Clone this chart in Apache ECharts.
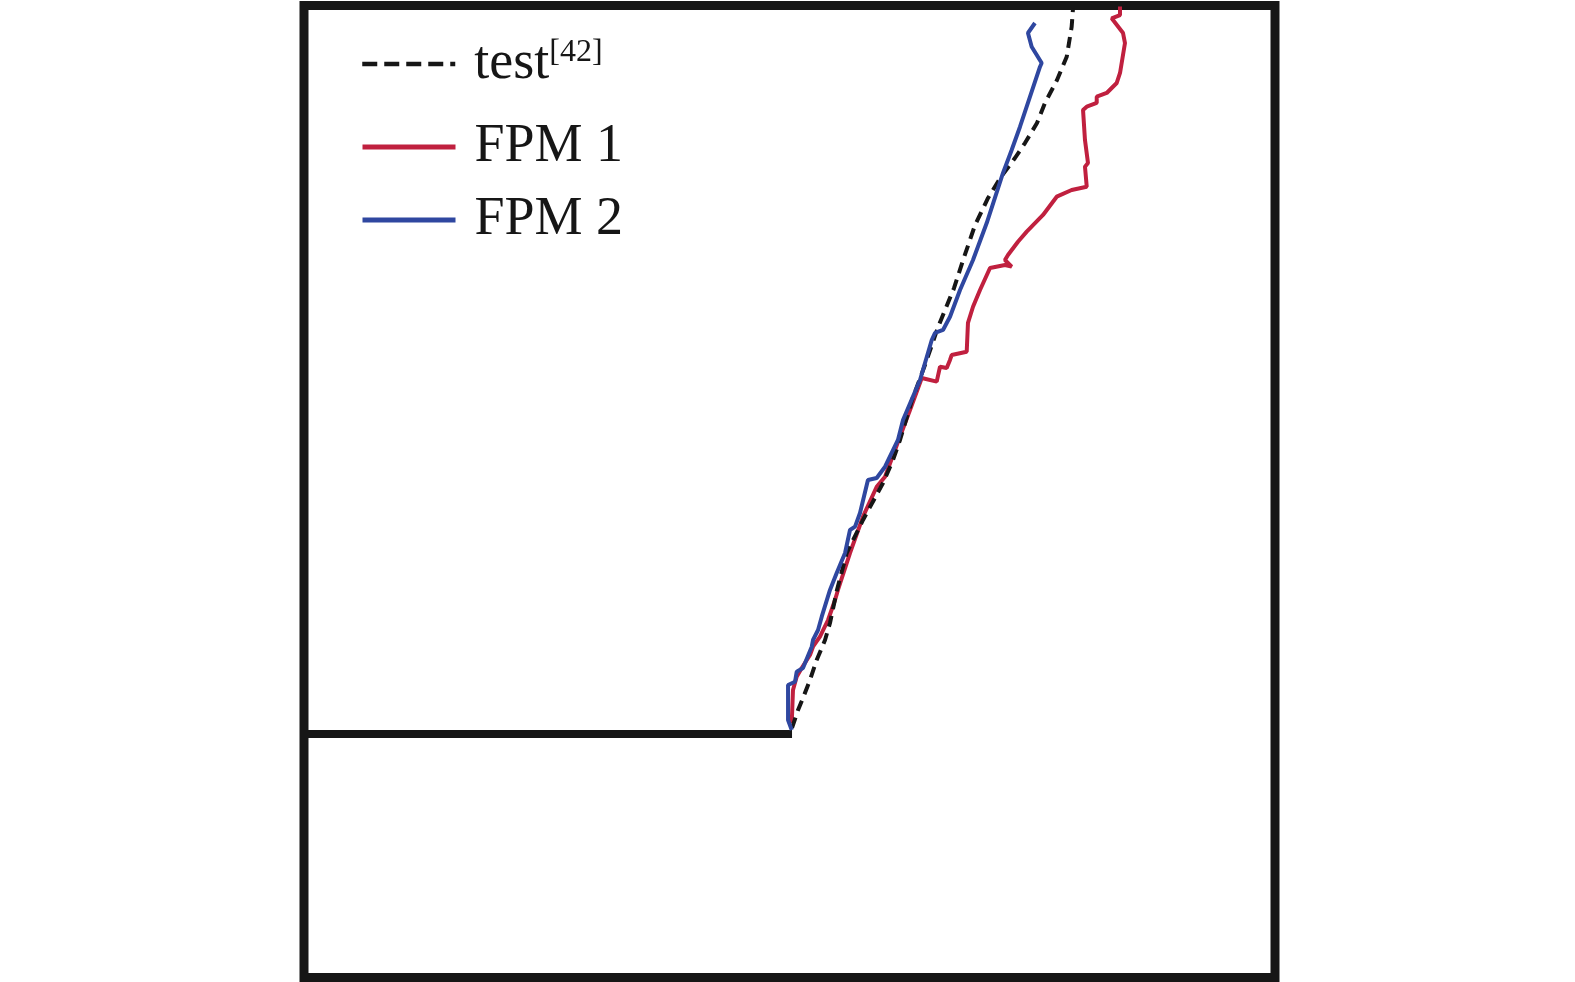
<!DOCTYPE html>
<html>
<head>
<meta charset="utf-8">
<script src="https://cdn.jsdelivr.net/npm/echarts@6/dist/echarts.min.js"></script>
<style>
html,body{margin:0;padding:0;background:#fff;}
#chart{width:1575px;height:982px;}
</style>
</head>
<body>
<div id="chart"></div>
<script>
// Domain: square specimen 0..100 x 0..100, notch from x=0 to x=50 at y=25
const notchPath = [[0, 25.05], [50.26, 25.05]];

const testPath = [
  [50.26,25.67],[50.88,27.52],[51.39,28.76],[52.11,30.61],[52.80,32.66],[53.66,34.72],
  [54.17,36.47],[54.89,39.87],[55.89,43.67],[57.57,47.07],[59.63,50.87],[60.66,53.24],
  [61.38,55.30],[62.62,59.41],[63.95,63.01],[65.30,66.92],[66.23,69.19],[66.95,70.94],
  [67.88,73.82],[69.11,77.42],[70.45,80.20],[71.78,82.36],[73.22,84.31],[74.25,85.85],
  [75.49,87.91],[76.31,89.97],[77.55,92.33],[78.55,94.73],[79.06,97.82],[79.20,99.74]
];

const fpm1Path = [
  [50.23,26.18],[50.36,29.58],[50.74,30.95],[51.26,31.84],[52.11,33.18],[52.42,34.03],
  [53.14,35.06],[53.97,36.78],[54.69,38.84],[54.99,39.87],[56.23,43.67],[57.57,47.41],
  [58.98,50.49],[59.84,51.52],[61.17,55.09],[62.41,58.38],[63.62,61.68],[65.16,61.30],
  [65.50,62.84],[66.19,62.71],[66.53,63.53],[66.70,64.04],[68.25,64.38],[68.38,67.34],
  [68.90,69.01],[69.62,70.73],[70.65,72.99],[72.19,73.30],[72.88,73.13],[72.19,73.82],
  [72.50,74.33],[73.53,75.70],[74.43,76.73],[76.11,78.45],[77.52,80.33],[79.06,81.02],
  [80.61,81.36],[80.43,83.42],[80.74,83.80],[80.43,86.16],[80.23,89.25],[80.61,89.59],
  [81.64,89.97],[81.64,90.62],[82.67,91.00],[83.70,92.03],[84.04,93.06],[84.55,96.14],
  [84.35,97.17],[83.18,98.68],[84.04,99.02],[84.04,99.9]
];

const fpm2Path = [
  [50.23,25.46],[49.85,26.49],[49.85,30.09],[50.57,30.43],[50.74,31.46],[51.39,31.84],
  [51.60,32.36],[52.29,34.03],[52.42,34.72],[52.94,35.75],[53.32,37.12],[54.17,39.87],
  [54.86,41.62],[55.72,43.67],[56.23,46.04],[56.75,46.38],[57.26,47.79],[58.08,51.18],
  [58.98,51.39],[59.84,52.55],[61.17,55.30],[61.69,57.36],[63.44,61.47],[64.65,65.59],
  [64.98,66.31],[65.81,66.62],[66.53,67.98],[67.56,70.73],[68.90,73.82],[70.31,77.62],
  [71.99,82.77],[72.88,85.13],[73.74,87.53],[75.80,93.70],[75.97,94.08],[74.94,95.76],
  [74.56,97.17],[75.28,98.20]
];

const seriesNames = ['test', 'FPM 1', 'FPM 2'];
const refLabel = '[42]';

const FONT = 'Liberation Serif';
const INK = '#161616';
const RED = '#c0203f';
const BLUE = '#2f47a0';

const chart = echarts.init(document.getElementById('chart'), null, {renderer: 'canvas'});

function legendFor(name, top, lineStyle, extra) {
  return Object.assign({
    data: [name],
    left: 355,
    top: top,
    orient: 'vertical',
    itemWidth: 93,
    itemHeight: 14,
    selectedMode: false,
    lineStyle: lineStyle,
    itemStyle: {opacity: 0},
    textStyle: {fontFamily: FONT, fontSize: 54, color: INK, padding: [0, 0, 0, 14]}
  }, extra || {});
}

chart.setOption({
  animation: false,
  backgroundColor: '#fff',
  grid: {
    left: 304, right: 300, top: 5.5, bottom: 4.5,
    show: true, borderColor: INK, borderWidth: 9, backgroundColor: 'transparent'
  },
  xAxis: {
    type: 'value', min: 0, max: 100,
    axisLine: {show: false}, axisTick: {show: false}, axisLabel: {show: false}, splitLine: {show: false}
  },
  yAxis: {
    type: 'value', min: 0, max: 100,
    axisLine: {show: false}, axisTick: {show: false}, axisLabel: {show: false}, splitLine: {show: false}
  },
  legend: [
    legendFor(seriesNames[0], 32, {width: 4.5, type: [15, 7]}, {
      formatter: function (n) { return '{a|' + n + '}{s|' + refLabel + '}'; },
      textStyle: {
        fontFamily: FONT, fontSize: 54, color: INK, padding: [0, 0, 0, 14],
        rich: {
          a: {fontFamily: FONT, fontSize: 54, color: INK, lineHeight: 54},
          s: {fontFamily: FONT, fontSize: 32, color: INK, verticalAlign: 'top', lineHeight: 40}
        }
      }
    }),
    legendFor(seriesNames[1], 115, {width: 5}),
    legendFor(seriesNames[2], 188, {width: 5})
  ],
  series: [
    {
      name: 'notch', type: 'line', data: notchPath, symbol: 'none', silent: true,
      lineStyle: {color: INK, width: 8}, z: 1
    },
    {
      name: seriesNames[1], type: 'line', data: fpm1Path, symbol: 'none', color: RED,
      lineStyle: {color: RED, width: 4}, z: 2
    },
    {
      name: seriesNames[0], type: 'line', data: testPath, symbol: 'none', color: INK,
      lineStyle: {color: INK, width: 4, type: [11, 7]}, z: 3
    },
    {
      name: seriesNames[2], type: 'line', data: fpm2Path, symbol: 'none', color: BLUE,
      lineStyle: {color: BLUE, width: 4}, z: 4
    }
  ]
});
</script>
</body>
</html>
